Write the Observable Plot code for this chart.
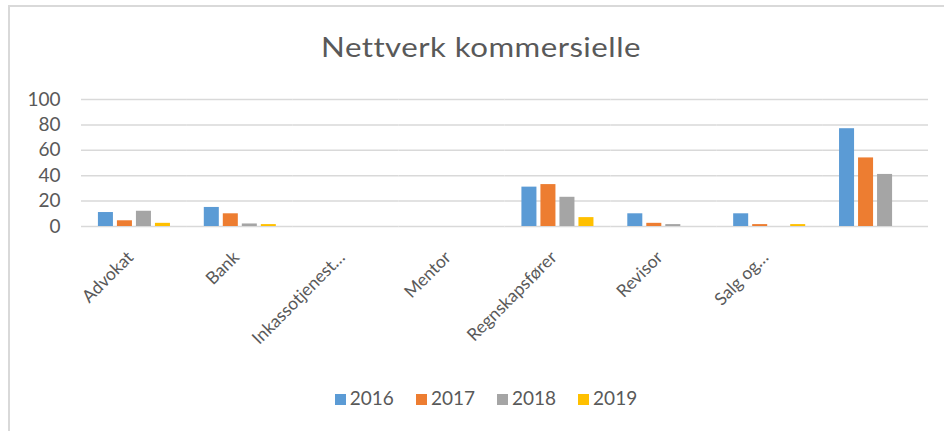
<!DOCTYPE html>
<html>
<head>
<meta charset="utf-8">
<script src="https://cdn.jsdelivr.net/npm/d3@7"></script>
<script src="https://cdn.jsdelivr.net/npm/@observablehq/plot@0.6"></script>
<style>
  body { margin: 0; background: #fff; font-family: Lato, "Open Sans", sans-serif; }
  #wrap { position: relative; width: 944px; height: 431px; overflow: hidden; background: #fff; }
  #frame { position: absolute; left: 8px; top: 5px; width: 1000px; height: 500px;
           border-top: 2px solid #d9d9d9; border-left: 2px solid #d9d9d9; }
  #title { position: absolute; left: 481px; top: 34px; transform: translateX(-50%) scaleX(1.2);
           font-size: 26px; line-height: 26px; color: #595959; letter-spacing: 0.4px; white-space: nowrap; }
  #chart { position: absolute; left: 0; top: 80px; }
  #legend { position: absolute; left: 0; top: 388px; width: 944px; padding-left: 28px; box-sizing: border-box;
            text-align: center; font-size: 19px; line-height: 20px; color: #595959; white-space: nowrap; }
  .item { display: inline-block; margin: 0 11px; }
  .sw { display: inline-block; width: 11px; height: 11px; margin-right: 4px; vertical-align: 0px; }
</style>
</head>
<body>
<div id="wrap">
  <div id="frame"></div>
  <div id="title">Nettverk kommersielle</div>
  <div id="chart"></div>
  <div id="legend"></div>
</div>
<script>
const categories = ["Advokat", "Bank", "Inkassotjenest…", "Mentor", "Regnskapsfører", "Revisor", "Salg og…", ""];
const years = ["2016", "2017", "2018", "2019"];
const values2016 = [11, 15, 0, 0, 31, 10, 10, 77];
const values2017 = [4.5, 10, 0, 0, 33, 2.5, 1.5, 54];
const values2018 = [12, 2, 0, 0, 23, 1.5, 0, 41];
const values2019 = [2.5, 1.5, 0, 0, 7, 0, 1.5, 0];
const yTicks = [0, 20, 40, 60, 80, 100];
const colors = ["#5b9bd5", "#ed7d31", "#a5a5a5", "#ffc000"];

const series = [values2016, values2017, values2018, values2019];
const data = [];
categories.forEach((c, i) => years.forEach((y, j) => data.push({category: c, year: y, value: series[j][i]})));

const chart = Plot.plot({
  width: 944,
  height: 300,
  marginLeft: 81,
  marginRight: 16,
  marginTop: 19,
  marginBottom: 154,
  style: {fontFamily: "Lato, 'Open Sans', sans-serif", fontSize: "19px", color: "#595959", background: "transparent"},
  fx: {domain: categories, padding: 0, round: false, label: null},
  x: {domain: years, paddingInner: 0.21, paddingOuter: 0.89, round: false, axis: null},
  y: {domain: [0, 100], axis: null},
  color: {domain: years, range: colors},
  marks: [
    Plot.gridY(yTicks, {stroke: "#d9d9d9", strokeOpacity: 1, strokeWidth: 1.5}),
    Plot.axisY(yTicks, {tickSize: 0, tickPadding: 21, fontSize: 19, fill: "#595959", label: null}),
    Plot.axisFx({anchor: "bottom", tickSize: 0, tickPadding: 28, tickRotate: -45, fontSize: 17.5, fill: "#595959", label: null, dx: -4}),
    Plot.barY(data, {fx: "category", x: "year", y: "value", fill: "year"})
  ]
});
document.getElementById("chart").appendChild(chart);

const legend = document.getElementById("legend");
years.forEach((y, j) => {
  const item = document.createElement("span");
  item.className = "item";
  const sw = document.createElement("span");
  sw.className = "sw";
  sw.style.background = colors[j];
  item.appendChild(sw);
  item.appendChild(document.createTextNode(y));
  legend.appendChild(item);
});
</script>
</body>
</html>
